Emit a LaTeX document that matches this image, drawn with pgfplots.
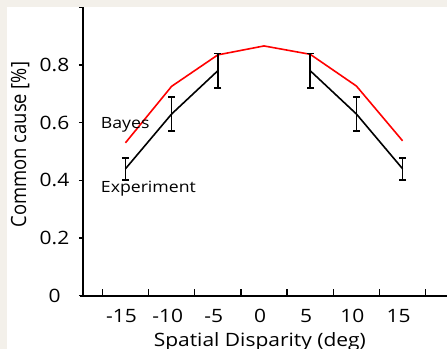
\documentclass[border=0pt]{standalone}
\usepackage{pgfplots}
\pgfplotsset{compat=1.18}
\usepackage{graphicx}
\usepackage{fontspec}
\setmainfont{Open Sans}
\definecolor{beige}{RGB}{243,240,234}
\newcommand{\hs}[1]{\scalebox{1.14}[1]{#1}}
\begin{document}
\begin{tikzpicture}
\path[use as bounding box] (0,0) rectangle (447bp,349bp);
\clip (0,0) rectangle (447bp,349bp);
\fill[beige] (0,0) rectangle (447bp,349bp);
\fill[white] (7bp,0) rectangle (447bp,342bp);
\begin{axis}[
  at={(83.3bp,53.3bp)}, anchor=south west,
  scale only axis, width=365.5bp, height=288.4bp,
  xmin=-19.56, xmax=20, ymin=0, ymax=1,
  axis lines=left,
  axis line style={-, line width=1.6bp},
  x axis line style={shorten <=-3bp},
  xtick={-15,-10,-5,0,5,10,15},
  xticklabels={\hs{-15},\hs{-10},\hs{-5},\hs{0},\hs{5},\hs{10},\hs{15}},
  minor xtick={-17.5,-12.5,-7.5,-2.5,2.5,7.5,12.5,17.5},
  ytick={0,0.2,0.4,0.6,0.8,1},
  yticklabels={\hs{0},\hs{0.2},\hs{0.4},\hs{0.6},\hs{0.8},},
  major x tick style={draw=none},
  xtick align=inside, ytick align=outside,
  major tick length=4.5bp, minor tick length=7bp,
  tick style={line width=1.5bp, black},
  tick label style={font=\fontsize{18.4bp}{21bp}\selectfont},
  xticklabel style={xshift=-4bp, yshift=-10bp},
  yticklabel style={anchor=center, xshift=-24.3bp},
  xlabel={\hs{Spatial Disparity (deg)}},
  ylabel={\scalebox{1}[1.14]{Common cause [\%]}},
  label style={font=\fontsize{18.4bp}{21bp}\selectfont},
  xlabel style={at={(axis description cs:0.483,-0.177)}, anchor=base},
  ylabel style={at={(axis description cs:-0.173,0.524)}, anchor=center},
  clip=false,
]
\addplot[red, line width=1.6bp] coordinates {
  (-15,0.53) (-10,0.726) (-5,0.835) (0,0.866) (5,0.837) (10,0.727) (15,0.537)};
\addplot[black, line width=1.6bp,
  error bars/.cd, y dir=both, y explicit,
  error bar style={line width=1.5bp},
  error mark options={rotate=90, mark size=3.5bp, line width=1.5bp}]
  coordinates {
  (-15,0.44) +- (0,0.038)
  (-10,0.63) +- (0,0.059)
  (-5,0.78) +- (0,0.06)};
\addplot[black, line width=1.6bp,
  error bars/.cd, y dir=both, y explicit,
  error bar style={line width=1.5bp},
  error mark options={rotate=90, mark size=3.5bp, line width=1.5bp}]
  coordinates {
  (5,0.78) +- (0,0.06)
  (10,0.63) +- (0,0.059)
  (15,0.44) +- (0,0.038)};
\node[anchor=base west, inner sep=0pt, font=\fontsize{15.5bp}{18bp}\selectfont] at (axis cs:-17.67,0.58) {\hs{Bayes}};
\node[anchor=base west, inner sep=0pt, font=\fontsize{15.5bp}{18bp}\selectfont] at (axis cs:-17.67,0.357) {\hs{Experiment}};
\end{axis}
\end{tikzpicture}
\end{document}
